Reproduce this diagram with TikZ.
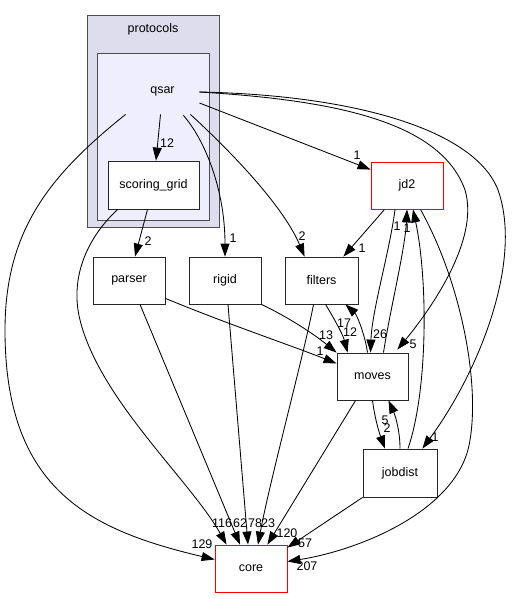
\documentclass[tikz,border=0pt]{standalone}
\usepackage{fontspec}
\setmainfont{Liberation Sans}
\usetikzlibrary{calc,arrows.meta}
\definecolor{clusterouter}{HTML}{DDDDEE}
\definecolor{clusterinner}{HTML}{EEEEFF}

\begin{document}
\begin{tikzpicture}[x=1pt,y=-1pt,line width=0.85pt,
  dirbox/.style={draw=black!85, rectangle, fill=white, minimum width=72pt, minimum height=47pt, inner sep=0pt, font=\fontsize{12.5}{15}\selectfont},
  reddir/.style={dirbox, draw=red},
  cluster/.style={draw=black!70, line width=1pt},
  lbl/.style={inner sep=0pt, font=\fontsize{12.5}{15}\selectfont},
  dep/.style={-{Triangle[length=13pt,width=9pt]}}]
\useasboundingbox (0,0) rectangle (513,599);

% Clusters protocols and qsar
\filldraw[cluster, fill=clusterouter] (87,16) rectangle (219,227);
\node[lbl] (protocols) at (153,29) {protocols};
\filldraw[cluster, fill=clusterinner] (97,54) rectangle (209,220);
\node[lbl, minimum width=73pt, minimum height=46pt] (qsar) at (162.5,91) {qsar};

% Directories
\node[dirbox, minimum width=91pt, minimum height=48pt] (scoringgrid) at (153.5,185) {scoring\_grid};
\node[dirbox] (parser) at (129,280.5) {parser};
\node[dirbox] (rigid) at (225,280.5) {rigid};
\node[dirbox, minimum width=73pt] (filters) at (321.5,280.5) {filters};
\node[reddir] (jd2) at (407,185.5) {jd2};
\node[dirbox, minimum width=71pt] (moves) at (372.5,376.5) {moves};
\node[dirbox, minimum width=74pt, minimum height=48pt] (jobdist) at (400,473) {jobdist};
\node[reddir] (core) at (251,568.5) {core};

% Edges out of qsar
\draw[dep] ($(qsar.south)+(-2,0)$) -- ($(scoringgrid.north)+(2.5,0)$);
\draw[dep] (qsar.south west) .. controls (50,175) and (5,230) .. (5,330)
  .. controls (5,490) and (90,530) .. ($(core.west)+(0,-9)$);
\draw[dep] ($(qsar.east)+(0,12)$) -- ($(jd2.north west)+(0,8)$);
\draw[dep] ($(qsar.east)+(0,1)$) .. controls (330,100) and (440,120) .. (465,190)
  .. controls (480,240) and (430,310) .. ($(moves.north east)+(-11,-3)$);
\draw[dep] ($(qsar.east)+(0,1)$) .. controls (355,95) and (475,130) .. (498,190)
  .. controls (523,260) and (480,370) .. ($(jobdist.north east)+(-15,0)$);
\draw[dep] ($(qsar.south east)+(-9,0)$) .. controls (240,160) and (285,210) .. ($(filters.north west)+(20,0)$);
\draw[dep] ($(qsar.south east)+(-16,1)$) .. controls (205,140) and (225,190) .. (rigid.north);

% Edges out of scoring_grid
\draw[dep] ($(scoringgrid.south)+(-6,0)$) -- ($(parser.north)+(6,0)$);
\draw[dep] ($(scoringgrid.south west)+(10,0)$) .. controls (85,240) and (70,280) .. (80,320)
  .. controls (100,400) and (190,480) .. ($(core.north west)+(12,0)$);

% Edges out of parser and rigid
\draw[dep] ($(parser.south east)+(0,-6)$) .. controls (230,325) and (290,345) .. ($(moves.west)+(0,-13)$);
\draw[dep] ($(parser.south)+(11,0)$) -- ($(core.north)+(-11,0)$);
\draw[dep] (rigid.south east) .. controls (290,318) and (315,335) .. (moves.north west);
\draw[dep] ($(rigid.south)+(3,0)$) -- ($(core.north)+(-3,0)$);

% Edges out of filters
\draw[dep] ($(filters.south)+(4,0)$) .. controls (335,320) and (343,335) .. ($(moves.north west)+(11,0)$);
\draw[dep] ($(filters.south)+(-8,0)$) .. controls (305,350) and (270,480) .. ($(core.north)+(7,0)$);

% Edges out of jd2
\draw[dep] ($(jd2.south west)+(14,0)$) -- ($(filters.north east)+(-15,0)$);
\draw[dep] ($(jd2.south)+(-12,0)$) .. controls (390,250) and (372,310) .. ($(moves.north)+(-2,0)$);
\draw[dep] ($(jd2.south east)+(-23,0)$) .. controls (460,280) and (480,380) .. (470,440)
  .. controls (460,510) and (360,550) .. ($(core.east)+(0,-7)$);

% Edges out of moves
\draw[dep] ($(moves.north)+(-5,0)$) .. controls (365,335) and (357,315) .. ($(filters.south east)+(-13,0)$);
\draw[dep] ($(moves.north)+(11,0)$) .. controls (390,310) and (405,250) .. (jd2.south);
\draw[dep] (moves.south) .. controls (375,420) and (380,435) .. ($(jobdist.north)+(-15,0)$);
\draw[dep] ($(moves.south west)+(19,0)$) -- ($(core.north east)+(-20,0)$);

% Edges out of jobdist
\draw[dep] (jobdist.north) .. controls (400,430) and (395,415) .. ($(moves.south)+(16,0)$);
\draw[dep] ($(jobdist.north)+(8,0)$) .. controls (428,390) and (428,280) .. ($(jd2.south)+(6,0)$);
\draw[dep] (jobdist.south west) -- ($(core.north east)+(0,3)$);

% Labels
\node[lbl] (l12) at (167,143) {12};
\node[lbl] (l129) at (202,544) {129};
\node[lbl] (lqj) at (357,155) {1};
\node[lbl] (lqm) at (413,344) {5};
\node[lbl] (lqjd) at (435,437) {1};
\node[lbl] (lqf) at (302,236) {2};
\node[lbl] (lqr) at (233,238) {1};
\node[lbl] (lsp) at (148,241) {2};
\node[lbl] (l116) at (222,523) {116};
\node[lbl] (lpm) at (320,351) {1};
\node[lbl] (l62) at (240,523) {62};
\node[lbl] (l13) at (326,335) {13};
\node[lbl] (l78) at (255,523) {78};
\node[lbl] (lfm) at (350,332) {12};
\node[lbl] (l23) at (268,523) {23};
\node[lbl] (ljf) at (362,248) {1};
\node[lbl] (l26) at (380,334) {26};
\node[lbl] (l207) at (307,566) {207};
\node[lbl] (l17) at (344,323) {17};
\node[lbl] (lmj) at (397,226) {1};
\node[lbl] (lmjb) at (387,428) {2};
\node[lbl] (l120) at (287,533) {120};
\node[lbl] (ljbm) at (385,420) {5};
\node[lbl] (ljbj) at (407,228) {1};
\node[lbl] (l57) at (305,543) {57};
\end{tikzpicture}
\end{document}
